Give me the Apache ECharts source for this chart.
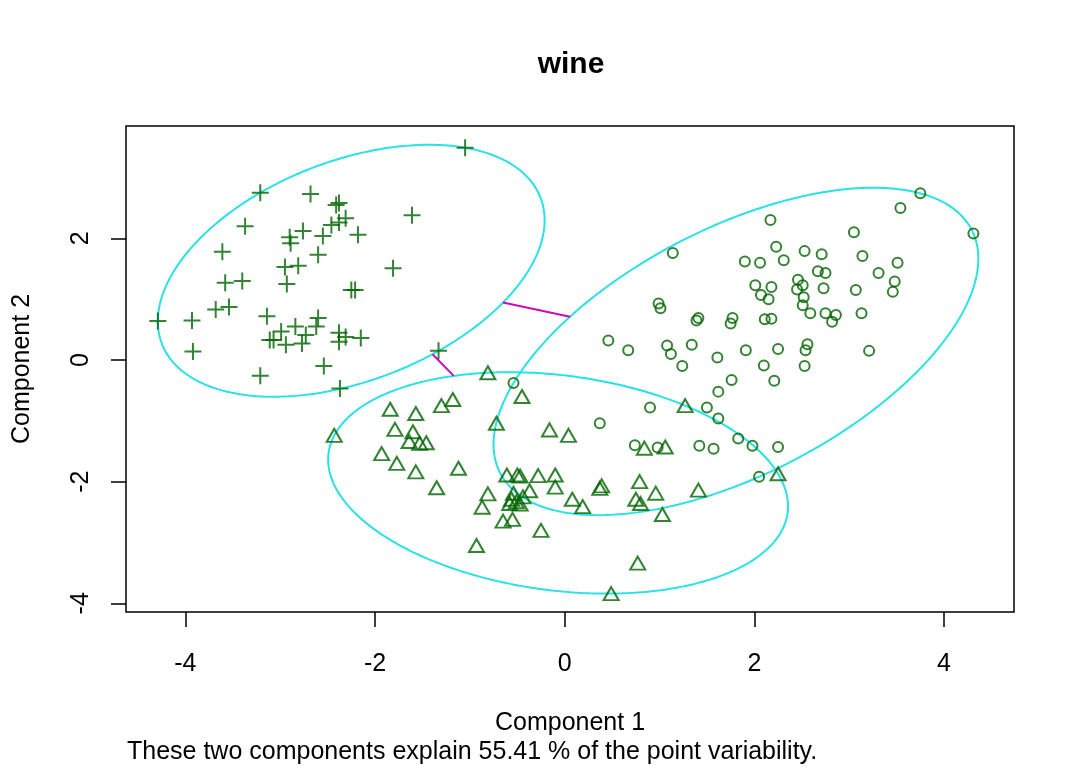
<!DOCTYPE html>
<html><head><meta charset="utf-8">
<script src="https://cdn.jsdelivr.net/npm/echarts@6/dist/echarts.min.js"></script>
<style>html,body{margin:0;padding:0;background:#fff}#c{width:1080px;height:771px}</style>
</head><body><div id="c"></div>
<script>
// ---- data ----
const titleText = 'wine';
const xAxisTitle = 'Component 1';
const yAxisTitle = 'Component 2';
const subText = 'These two components explain 55.41 % of the point variability.';
const xTicks = [-4, -2, 0, 2, 4];
const yTicks = [-4, -2, 0, 2, 4];

// cluster 1 (plus signs)
const c1x = [-3.21,-2.68,-2.41,-2.38,-2.31,-2.38,-2.46,-2.55,-2.76,-2.90,-2.89,-2.18,-1.61,-3.37,-3.61,-2.60,-2.95,-2.81,-1.81,-3.58,-3.40,-2.93,-2.25,-2.21,-1.05,-4.29,-3.93,-3.68,-3.54,-3.92,-3.14,-2.99,-3.11,-3.07,-2.94,-2.84,-2.73,-2.77,-2.60,-2.62,-2.38,-2.31,-2.38,-2.15,-2.54,-3.21,-2.37,-1.33];
const c1y = [ 2.75, 2.73, 2.55, 2.58, 2.33, 2.26, 2.22, 2.04, 2.12, 2.02, 1.92, 2.06, 2.38, 2.20, 1.78, 1.73, 1.53, 1.55, 1.51, 1.27, 1.30, 1.25, 1.15, 1.15, 3.49, 0.64, 0.65, 0.83, 0.87, 0.14, 0.72, 0.47, 0.33, 0.33, 0.25, 0.55, 0.41, 0.27, 0.69, 0.55, 0.45, 0.38, 0.30, 0.36,-0.10,-0.26,-0.47, 0.15];

// cluster 2 (triangles)
const c2x = [-0.81,-0.45,-1.18,-1.30,-1.84,-1.57,-1.79,-1.60,-2.43,-1.64,-1.53,-1.46,-1.93,-1.77,-1.57,-0.72,-0.16, 0.04, 0.84, 1.06, 1.27,-1.12,-1.35,-0.61,-0.50,-0.47,-0.28,-0.10,-0.10,-0.37,-0.81,-0.87,-0.54,-0.56,-0.51,-0.44,-0.58,-0.47,-0.65,-0.55,-0.25,-0.93, 0.08, 0.19, 0.39, 0.37, 0.79, 0.75, 0.80, 0.96, 1.03, 1.41, 0.77, 0.49, 2.25];
const c2y = [-0.21,-0.60,-0.65,-0.75,-0.81,-0.88,-1.14,-1.18,-1.24,-1.34,-1.37,-1.36,-1.54,-1.70,-1.84,-1.04,-1.15,-1.24,-1.45,-1.43,-0.75,-1.78,-2.10,-1.89,-1.89,-1.91,-1.90,-1.89,-2.09,-2.15,-2.20,-2.42,-2.19,-2.29,-2.33,-2.25,-2.36,-2.37,-2.65,-2.62,-2.80,-3.05,-2.29,-2.41,-2.07,-2.11,-2.00,-2.29,-2.36,-2.19,-2.54,-2.14,-3.34,-3.84,-1.87];

// cluster 3 (circles)
const c3x = [1.14,0.99,1.01,1.39,1.41,0.46,0.67,1.08,1.12,1.34,1.24,1.61,-0.54,0.90,0.37,1.50,1.62,1.62,0.74,0.98,1.42,1.57,3.75,3.54,4.31,2.17,3.05,2.23,2.53,2.71,3.14,1.90,2.06,2.31,3.51,2.67,2.75,3.31,3.48,2.46,2.51,2.01,2.18,2.45,2.73,3.07,3.46,2.07,2.15,2.52,2.51,2.59,2.75,2.86,2.82,3.13,1.77,1.75,2.11,2.18,1.91,2.25,2.56,2.54,3.21,2.10,2.53,1.76,2.21,1.83,1.98,2.25,2.05];
const c3y = [1.76,0.93,0.85,0.65,0.69,0.32,0.16,0.24,0.10,0.25,-0.10,0.04,-0.38,-0.78,-1.04,-0.78,-0.52,-0.96,-1.40,-1.44,-1.41,-1.46,2.74,2.50,2.08,2.30,2.10,1.86,1.79,1.74,1.71,1.62,1.60,1.64,1.60,1.46,1.43,1.43,1.29,1.32,1.23,1.23,1.20,1.16,1.18,1.15,1.12,1.07,1.00,1.03,0.90,0.77,0.77,0.74,0.63,0.77,0.69,0.60,0.67,0.68,0.16,0.18,0.26,0.16,0.15,-0.09,-0.10,-0.33,-0.34,-1.29,-1.41,-1.43,-1.92];

// ---- spanning (minimum-area) ellipse of each cluster ----
function inv3(m){
  const [a,b,c]=m[0],[d,e,f]=m[1],[g,h,i]=m[2];
  const A=e*i-f*h,B=-(d*i-f*g),C=d*h-e*g;
  const det=a*A+b*B+c*C;
  return [[A/det,-(b*i-c*h)/det,(b*f-c*e)/det],
          [B/det,(a*i-c*g)/det,-(a*f-c*d)/det],
          [C/det,-(a*h-b*g)/det,(a*e-b*d)/det]];
}
function mvee(xs, ys){
  const n=xs.length; let u=new Array(n).fill(1/n);
  for(let it=0;it<20000;it++){
    const X=[[0,0,0],[0,0,0],[0,0,0]];
    for(let k=0;k<n;k++){const q=[xs[k],ys[k],1];
      for(let a=0;a<3;a++)for(let b=0;b<3;b++)X[a][b]+=u[k]*q[a]*q[b];}
    const Xi=inv3(X);
    let mx=-1,j=0;
    for(let k=0;k<n;k++){const q=[xs[k],ys[k],1];let s=0;
      for(let a=0;a<3;a++)for(let b=0;b<3;b++)s+=q[a]*Xi[a][b]*q[b];
      if(s>mx){mx=s;j=k;}}
    const step=(mx-3)/(3*(mx-1));
    const nu=u.map(v=>v*(1-step)); nu[j]+=step;
    let diff=0; for(let k=0;k<n;k++)diff+=(nu[k]-u[k])**2;
    u=nu; if(Math.sqrt(diff)<1e-9)break;
  }
  let cx=0,cy=0; for(let k=0;k<n;k++){cx+=u[k]*xs[k];cy+=u[k]*ys[k];}
  let sxx=0,sxy=0,syy=0;
  for(let k=0;k<n;k++){sxx+=u[k]*xs[k]*xs[k];sxy+=u[k]*xs[k]*ys[k];syy+=u[k]*ys[k]*ys[k];}
  sxx-=cx*cx;sxy-=cx*cy;syy-=cy*cy;
  let S=[[2*sxx,2*sxy],[2*sxy,2*syy]];
  const det=S[0][0]*S[1][1]-S[0][1]*S[1][0];
  let Ai=[[S[1][1]/det,-S[0][1]/det],[-S[1][0]/det,S[0][0]/det]];
  let mmax=0;
  for(let k=0;k<n;k++){const dx=xs[k]-cx,dy=ys[k]-cy;
    mmax=Math.max(mmax,dx*dx*Ai[0][0]+2*dx*dy*Ai[0][1]+dy*dy*Ai[1][1]);}
  S=S.map(r=>r.map(v=>v*mmax)); Ai=Ai.map(r=>r.map(v=>v/mmax));
  return {cx,cy,S,Ai};
}
function ellipsePath(E){
  const r11=Math.sqrt(E.S[0][0]), r21=E.S[1][0]/r11, r22=Math.sqrt(E.S[1][1]-r21*r21);
  const pts=[];
  for(let k=0;k<=360;k++){const t=k*Math.PI/180,c=Math.cos(t),s=Math.sin(t);
    pts.push([E.cx+r11*c, E.cy+r21*c+r22*s]);}
  return pts;
}
function gapLine(E1,E2){
  const dx=E2.cx-E1.cx, dy=E2.cy-E1.cy;
  const q=(E)=>dx*dx*E.Ai[0][0]+2*dx*dy*E.Ai[0][1]+dy*dy*E.Ai[1][1];
  const t1=1/Math.sqrt(q(E1)), t2=1/Math.sqrt(q(E2));
  if(t1+t2>=1) return null;
  return [[E1.cx+t1*dx,E1.cy+t1*dy],[E2.cx-t2*dx,E2.cy-t2*dy]];
}
const E1=mvee(c1x,c1y), E2=mvee(c2x,c2y), E3=mvee(c3x,c3y);
const ells=[E1,E2,E3];
const gaps=[gapLine(E1,E2),gapLine(E1,E3),gapLine(E2,E3)].filter(g=>g);

const zip=(a,b)=>a.map((v,i)=>[v,b[i]]);
const GREEN='#006400', CYAN='#28E2E5', MAG='#CD0BBC';
const FONT='"Liberation Sans", Arial, sans-serif';
const pointBase={type:'scatter',z:5,silent:true,emphasis:{disabled:true},
  itemStyle:{color:'rgba(0,0,0,0)',borderColor:GREEN,borderWidth:2}};

const series=[];
ells.forEach(E=>series.push({type:'line',data:ellipsePath(E),showSymbol:false,symbol:'none',
  silent:true,z:2,lineStyle:{color:CYAN,width:2},emphasis:{disabled:true}}));
gaps.forEach(g=>series.push({type:'line',data:g,showSymbol:false,symbol:'none',
  silent:true,z:2,lineStyle:{color:MAG,width:2},emphasis:{disabled:true}}));
series.push(Object.assign({},pointBase,{data:zip(c1x,c1y),symbol:'path://M0,-8L0,8M-8,0L8,0',symbolSize:17}));
series.push(Object.assign({},pointBase,{data:zip(c2x,c2y),symbol:'triangle',symbolSize:[15,13]}));
series.push(Object.assign({},pointBase,{data:zip(c3x,c3y),symbol:'circle',symbolSize:10}));

const chart=echarts.init(document.getElementById('c'),null,{renderer:'canvas'});
chart.setOption({
  animation:false,
  backgroundColor:'#fff',
  grid:{left:126,top:126,width:888,height:486,show:true,borderColor:'#000',borderWidth:1.5,backgroundColor:'transparent'},
  xAxis:{type:'value',min:-4.626,max:4.738,position:'bottom',
    axisLine:{show:false,onZero:false},splitLine:{show:false},
    axisTick:{show:true,inside:false,length:15,customValues:xTicks,lineStyle:{color:'#000',width:1.5}},
    axisLabel:{customValues:xTicks,margin:40,color:'#000',fontSize:25,fontFamily:FONT,formatter:v=>String(v)}},
  yAxis:{type:'value',min:-4.143,max:3.847,position:'left',
    axisLine:{show:false,onZero:false},splitLine:{show:false},
    axisTick:{show:true,inside:false,length:15,customValues:yTicks,lineStyle:{color:'#000',width:1.5}},
    axisLabel:{customValues:yTicks,margin:32,rotate:90,color:'#000',fontSize:25,fontFamily:FONT,formatter:v=>String(v)}},
  series:series,
  graphic:[
    {type:'text',x:571,y:65,style:{text:titleText,font:'bold 30px '+FONT,fill:'#000',textAlign:'center',textVerticalAlign:'middle',align:'center',verticalAlign:'middle'}},
    {type:'text',x:570,y:723,style:{text:xAxisTitle,font:'25px '+FONT,fill:'#000',textAlign:'center',textVerticalAlign:'middle',align:'center',verticalAlign:'middle'}},
    {type:'text',x:22,y:369,rotation:Math.PI/2,style:{text:yAxisTitle,font:'25px '+FONT,fill:'#000',textAlign:'center',textVerticalAlign:'middle',align:'center',verticalAlign:'middle'}},
    {type:'text',x:127,y:752,style:{text:subText,font:'25px '+FONT,fill:'#000',textAlign:'left',textVerticalAlign:'middle',align:'left',verticalAlign:'middle'}}
  ]
});
</script></body></html>
